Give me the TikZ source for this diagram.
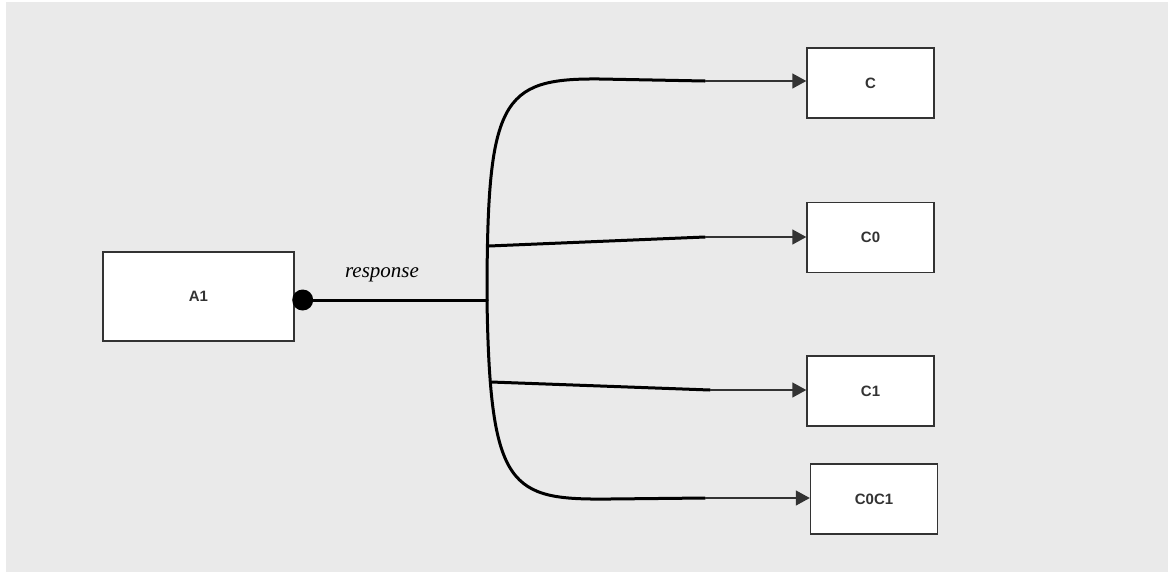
\documentclass[tikz,border=0pt]{standalone}
\usepackage{fontspec}
\setmainfont{Liberation Serif}
\setsansfont{Liberation Sans}
\usetikzlibrary{arrows.meta}
\definecolor{canvas}{HTML}{EAEAEA}
\definecolor{edge}{HTML}{333333}
\tikzset{
  box/.style={draw=edge, line width=1.4pt, fill=white, minimum width=127pt, minimum height=70pt,
    inner sep=0pt, font=\sffamily\bfseries\fontsize{15}{17}\selectfont, text=edge},
  trunk/.style={draw=black, line width=3pt, line cap=round},
  tip/.style={draw=edge, line width=1.4pt, -{Triangle[length=14pt,width=15pt]}}
}
\begin{document}
\begin{tikzpicture}[x=1pt,y=-1pt]
\useasboundingbox (0,0) rectangle (1168,574);
\fill[white] (0,0) rectangle (1168,574);
\fill[canvas] (6,2) rectangle (1168,572);

% blocks
\node[box, minimum width=191pt, minimum height=89pt] (a1) at (198.5,296.5) {A1};
\node[box] (c) at (870.5,83) {C};
\node[box] (c0) at (870.5,237.5) {C0};
\node[box] (c1) at (870.5,391) {C1};
\node[box] (c0c1) at (874,499) {C0C1};

% port and branch points
\coordinate (jn) at (487,300);
\coordinate (bc) at (705,81);
\coordinate (bc0) at (705,237);
\coordinate (bc1) at (710,390);
\coordinate (bc0c1) at (705,498);
\coordinate (s0) at (489,246);
\coordinate (s1) at (491,382);

\fill[black] (a1.east) ++(8,3.5) circle (10.5);
\coordinate (port) at ([shift={(8,3.5)}]a1.east);

\draw[trunk] (port) -- (jn);
\node[font=\itshape\fontsize{21}{24}\selectfont] (lbl) at (382,275) {response};

% fan-out
\draw[trunk] (jn) .. controls (487,100) and (500,78) .. (600,79) -- (bc);
\draw[trunk] (jn) .. controls (490,490) and (510,500) .. (610,499) -- (bc0c1);
\draw[trunk] (s0) -- (bc0);
\draw[trunk] (s1) -- (bc1);

% arrows into the blocks
\draw[tip] (bc) -- (c.west |- bc);
\draw[tip] (bc0) -- (c0.west |- bc0);
\draw[tip] (bc1) -- (c1.west |- bc1);
\draw[tip] (bc0c1) -- (c0c1.west |- bc0c1);
\end{tikzpicture}
\end{document}
